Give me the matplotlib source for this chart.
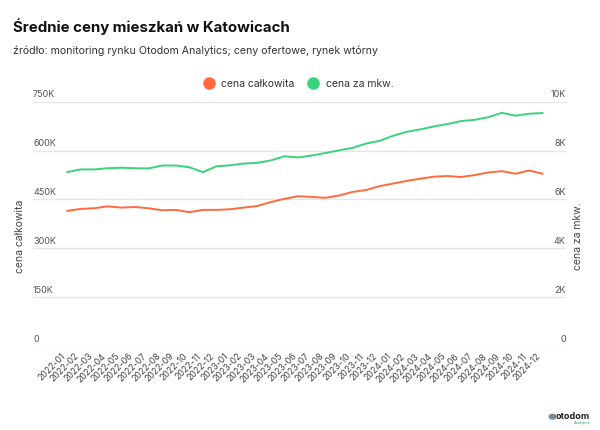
import matplotlib
matplotlib.use("Agg")
import matplotlib.pyplot as plt
from matplotlib.lines import Line2D
import matplotlib.transforms as mtransforms

plt.rcParams['font.family'] = ['Inter', 'DejaVu Sans']

months = [f"{y}-{m:02d}" for y in (2022, 2023, 2024) for m in range(1, 13)]

total_price = [415, 421, 423, 429, 425, 427, 423, 417, 418, 411, 418, 418,
               420, 425, 430, 442, 452, 460, 458, 455, 462, 473, 479, 491,
               499, 507, 514, 520, 522, 519, 525, 533, 537, 529, 539, 529]
total_price = [v * 1000 for v in total_price]

sqm_price = [7.12, 7.23, 7.23, 7.28, 7.30, 7.28, 7.27, 7.39, 7.39, 7.32, 7.12, 7.36,
             7.40, 7.47, 7.50, 7.60, 7.77, 7.72, 7.80, 7.90, 8.01, 8.11, 8.29, 8.40,
             8.61, 8.77, 8.87, 8.99, 9.09, 9.21, 9.26, 9.37, 9.55, 9.43, 9.51, 9.54]
sqm_price = [v * 1000 for v in sqm_price]

left_ticks = [0, 150000, 300000, 450000, 600000, 750000]
left_labels = ["0", "150K", "300K", "450K", "600K", "750K"]
right_ticks = [0, 2000, 4000, 6000, 8000, 10000]
right_labels = ["0", "2K", "4K", "6K", "8K", "10K"]

ORANGE = "#ff6b3b"
GREEN = "#3ad27a"
GRID = "#e6e6e6"
TICKC = "#555555"

fig = plt.figure(figsize=(6, 4.3), dpi=100)
ax = fig.add_axes([0.055, 0.1953, 0.888, 0.568])
ax2 = ax.twinx()

x = list(range(len(months)))
ax.plot(x, total_price, color=ORANGE, lw=1.4, solid_capstyle='round', zorder=3)
ax2.plot(x, sqm_price, color=GREEN, lw=1.4, solid_capstyle='round', zorder=3)

ax.set_xlim(-2.5, 36.7)
ax.set_ylim(0, 750000)
ax2.set_ylim(0, 10000)

for a in (ax, ax2):
    for s in a.spines.values():
        s.set_visible(False)

ax.set_yticks(left_ticks)
ax.yaxis.grid(True, color=GRID, lw=1)
ax.set_axisbelow(True)
ax.tick_params(axis='y', length=0, labelleft=False)
ax2.set_yticks(right_ticks)
ax2.tick_params(axis='y', length=0, labelright=False)

off = mtransforms.ScaledTranslation(0, 1.8/72, fig.dpi_scale_trans)
tl = mtransforms.blended_transform_factory(ax.transAxes, ax.transData)
for v, lab in zip(left_ticks, left_labels):
    ax.text(0.0, v, lab, transform=tl + off,
            ha='left', va='bottom', fontsize=6.5, color=TICKC)
tr = mtransforms.blended_transform_factory(ax2.transAxes, ax2.transData)
for v, lab in zip(right_ticks, right_labels):
    ax2.text(1.0, v, lab, transform=tr + off,
             ha='right', va='bottom', fontsize=6.5, color=TICKC)

ax.set_xticks(x)
ax.set_xticklabels(months, rotation=45, ha='right', va='top', fontsize=6.3, color="#444444")
ax.tick_params(axis='x', length=0, pad=4)

fig.text(0.033, 0.45, "cena całkowita", rotation=90, ha='center', va='center',
         fontsize=7.5, color="#444444")
fig.text(0.963, 0.45, "cena za mkw.", rotation=90, ha='center', va='center',
         fontsize=7.5, color="#444444")

fig.text(0.022, 0.937, "Średnie ceny mieszkań w Katowicach", fontsize=10.8,
         fontweight='bold', ha='left', va='center', color="#111111")
fig.text(0.022, 0.882, "źródło: monitoring rynku Otodom Analytics; ceny ofertowe, rynek wtórny",
         fontsize=7.6, ha='left', va='center', color="#333333")

handles = [Line2D([], [], ls='none', marker='o', ms=8, color=ORANGE),
           Line2D([], [], ls='none', marker='o', ms=8, color=GREEN)]
fig.legend(handles, ["cena całkowita", "cena za mkw."], loc='center',
           bbox_to_anchor=(0.493, 0.805), ncol=2, frameon=False, fontsize=7.5,
           handletextpad=0.2, columnspacing=0.8, labelcolor="#333333")

fig.text(0.983, 0.022, "otodom", fontsize=6.5, fontweight='bold', ha='right',
         va='bottom', color="#222222")
fig.text(0.983, 0.012, "Analytics", fontsize=2.8, ha='right', va='bottom', color="#2aa860")
fig.patches.append(matplotlib.patches.Circle((0.921, 0.031), 0.0055, transform=fig.transFigure,
                                             color="#7a8a90", zorder=5))

fig.savefig("out.png", dpi=100)
